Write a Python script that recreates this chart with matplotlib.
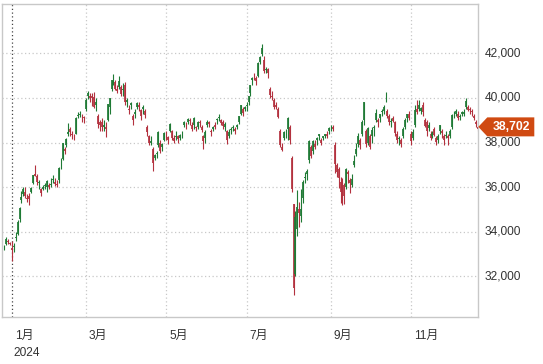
import numpy as np
import pandas as pd
import matplotlib
matplotlib.use('Agg')
import matplotlib.pyplot as plt
from matplotlib.patches import Polygon
from matplotlib.transforms import IdentityTransform

plt.rcParams['font.family'] = ['Liberation Sans', 'Noto Sans CJK JP']

# trading calendar (TSE), 2023-12-26 .. 2024-12-20
start_date = '2023-12-26'
end_date = '2024-12-20'
holidays = ['2024-01-01', '2024-01-02', '2024-01-03', '2024-01-08', '2024-02-12',
            '2024-02-23', '2024-03-20', '2024-04-29', '2024-05-03', '2024-05-06',
            '2024-07-15', '2024-08-12', '2024-09-16', '2024-09-23', '2024-10-14',
            '2024-11-04']
prev_close_start = 33254

# daily OHLC (Nikkei 225)
opens = [
    33300, 33450, 33600, 33480,  # Dec 2023
    33194, 33300, 33700, 33900, 34550, 35400, 35700, 35800, 35500, 35600, 35800, 36200, 36600, 36500, 36200, 35900, 35900, 36100, 36000,
    36100, 36100, 36300, 36250, 36100, 36300, 36900, 37250, 37600, 37900, 38400, 38600, 38350, 38250, 38400, 39200, 39300, 39200, 39100,
    39500, 40200, 40000, 40000, 40050, 39800, 39200, 38900, 38900, 38700, 38600, 39000, 39600, 40400, 40900, 40700, 40300, 40500, 40500, 40400,
    40600, 39900, 39500, 39700, 39200, 39300, 39600, 39700, 39200, 39600, 39400, 38700, 38300, 38000, 37700, 37300, 37500, 37900, 38000, 37800, 38100,
    38300, 38100, 38500, 38500, 38200, 38300, 38300, 38200, 38400, 38800, 38800, 38900, 39000, 38800, 38800, 38700, 38700, 38900, 38700, 38300, 38200,
    38800, 38900, 38500, 38600, 38800, 39000, 39100, 39000, 38900, 38700, 38500, 38300, 38600, 38700, 38500, 38700, 38900, 39300, 39500, 39500,
    39700, 39800, 40200, 40800, 40900, 40900, 41000, 41600, 41950, 41700, 41300, 41300, 40400, 40100, 39900, 39700, 39500, 38500, 37800, 38200, 38500, 38600,
    38700, 37300, 35250, 32100, 34100, 35000, 34700, 35500, 36400, 36600, 37200, 37800, 37600, 37800, 38100, 38300, 38000, 38200, 38300, 38300, 38500,
    38700, 38600, 37900, 37000, 36800, 35800, 36300, 36100, 36000, 36700, 36300, 36100, 37000, 37500, 38300, 38100, 38400, 39000, 38500,
    38000, 38300, 38300, 38700, 39000, 39000, 39100, 39400, 39400, 39900, 39400, 39200, 38900, 39100, 38900, 38400, 38200, 38100, 38300, 38700, 39100, 39300,
    38400, 38200, 38800, 39500, 39700, 39400, 39700, 39000, 38900, 38800, 38400, 38300, 38600, 38200, 38100, 38500, 38500, 38300, 38300, 38300,
    38300, 38700, 39300, 39300, 39300, 39200, 39300, 39300, 39600, 39600, 39500, 39400, 39200, 38900, 38600,
]
highs = [
    33400, 33760, 33650, 33550,
    33568, 33500, 33990, 34510, 35100, 35840, 35990, 36000, 35700, 35730, 36000, 36550, 36980, 36600, 36300, 35950, 36100, 36200, 36300,
    36200, 36400, 36550, 36400, 36300, 36900, 37290, 38000, 37800, 38200, 38865, 38700, 38500, 38400, 39156, 39390, 39430, 39300, 39200,
    39990, 40315, 40200, 40200, 40250, 40000, 39300, 39000, 39100, 39000, 38900, 39750, 40010, 40820, 41088, 40800, 40600, 40980, 40600, 40650,
    40700, 40000, 39700, 39800, 39300, 39500, 39800, 39800, 39500, 39700, 39500, 38800, 38350, 38300, 37800, 37500, 37600, 38500, 38100, 38000, 38450,
    38500, 38300, 38860, 38550, 38350, 38500, 38350, 38400, 38500, 38950, 38900, 39100, 39100, 38900, 39150, 38750, 38950, 39000, 38800, 38350, 38550,
    39000, 38950, 38600, 38750, 38900, 39100, 39300, 39050, 39000, 38900, 38550, 38600, 38700, 38800, 38700, 38850, 39200, 39700, 39600, 39650,
    39800, 40100, 40600, 40950, 41100, 41000, 41600, 41900, 42426, 41900, 41400, 41350, 40500, 40300, 40000, 39800, 39600, 38600, 38000, 38500, 38600, 39150,
    38800, 37400, 35250, 34911, 35880, 35350, 35900, 36300, 36700, 36800, 38100, 37900, 38100, 38100, 38250, 38400, 38200, 38300, 38400, 38500, 38700,
    38800, 38800, 38040, 37080, 36910, 36470, 36400, 36200, 36860, 36770, 36410, 36600, 37440, 37980, 38430, 38200, 39010, 39830, 38600,
    38700, 38400, 38700, 38800, 39500, 39100, 39300, 39500, 39700, 40257, 39500, 39300, 39100, 39200, 38950, 38500, 38300, 38200, 38700, 39100, 39300, 39400,
    38500, 38600, 39700, 39900, 39900, 39600, 39800, 39100, 39000, 38900, 38500, 38500, 38700, 38300, 38400, 38800, 38600, 38400, 38500, 38400,
    38600, 39300, 39400, 39500, 39400, 39300, 39400, 39500, 40000, 39700, 39600, 39500, 39300, 39000, 38900,
]
lows = [
    33200, 33400, 33450, 33390,
    32693, 33100, 33600, 33850, 34450, 35300, 35600, 35500, 35320, 35200, 35750, 36150, 36500, 36100, 35900, 35600, 35850, 35900, 35800,
    35900, 36000, 36200, 36050, 36000, 36200, 36800, 37200, 37500, 37800, 38300, 38300, 38150, 38100, 38400, 39100, 39150, 38900, 38880,
    39400, 39950, 39800, 39650, 39550, 39400, 38650, 38500, 38500, 38500, 38270, 38950, 39300, 40300, 40600, 40350, 40200, 40400, 40100, 40100,
    39700, 39600, 39300, 39500, 38800, 39100, 39500, 39400, 39000, 39300, 39100, 38300, 37900, 37900, 36733, 37200, 37300, 37800, 37550, 37600, 38050,
    38100, 37950, 38450, 38100, 38000, 38100, 38000, 38100, 38200, 38700, 38600, 38850, 38800, 38500, 38600, 38500, 38600, 38700, 38450, 37700, 38000,
    38700, 38700, 38300, 38500, 38600, 38850, 38950, 38800, 38600, 38500, 37950, 38200, 38400, 38500, 38400, 38600, 38850, 39250, 39200, 39400,
    39400, 39700, 40100, 40600, 40800, 40600, 40950, 41500, 41900, 41100, 41100, 40900, 40000, 39900, 39500, 39500, 39100, 37800, 37600, 38100, 38200, 38100,
    37950, 35800, 31156, 32000, 33800, 34200, 34450, 35300, 36200, 36300, 37100, 37300, 37500, 37700, 37900, 38100, 37900, 38100, 38200, 38200, 38400,
    38500, 38500, 36620, 36450, 35960, 35290, 35200, 35250, 35900, 36180, 35740, 36000, 36900, 37400, 37800, 37700, 38300, 38800, 37800,
    37900, 37700, 38000, 38300, 38900, 38700, 38900, 39200, 39300, 39800, 39100, 38800, 38700, 38900, 38300, 38000, 37900, 37800, 38200, 38600, 38900, 39000,
    37900, 38100, 38700, 39300, 39400, 39300, 39200, 38700, 38300, 38500, 38100, 38200, 38300, 37900, 38000, 38400, 38200, 37900, 38200, 37900,
    38200, 38600, 39100, 39200, 39000, 39000, 39200, 39200, 39500, 39400, 39300, 39200, 39000, 38700, 38500,
]
closes = [
    33305, 33681, 33539, 33464,
    33288, 33377, 33763, 34441, 35049, 35577, 35901, 35619, 35477, 35466, 35963, 36546, 36517, 36226, 36236, 35751, 36026, 36066, 36287,
    36011, 36158, 36354, 36160, 36119, 36863, 36897, 37963, 37703, 38157, 38487, 38470, 38363, 38262, 39098, 39233, 39239, 39208, 39166,
    39910, 40109, 40097, 40090, 39598, 39688, 38820, 38797, 38695, 38807, 38707, 39740, 40003, 40815, 40888, 40414, 40398, 40762, 40168, 40369,
    39803, 39838, 39451, 39773, 38992, 39347, 39773, 39581, 39442, 39523, 39233, 38471, 37961, 38079, 37068, 37438, 37552, 38460, 37628, 37934, 38405,
    38274, 38236, 38835, 38202, 38073, 38229, 38179, 38356, 38385, 38920, 38787, 39069, 38946, 38617, 39103, 38646, 38900, 38855, 38556, 38054, 38487,
    38923, 38837, 38490, 38703, 38683, 39038, 39134, 38876, 38720, 38814, 38102, 38482, 38570, 38633, 38596, 38804, 39173, 39667, 39341, 39583,
    39631, 40074, 40580, 40913, 40912, 40780, 41580, 41831, 42224, 41190, 41275, 41097, 40126, 40063, 39599, 39594, 39154, 37869, 37667, 38468, 38525, 39101,
    38126, 35909, 31458, 34675, 35089, 34831, 35025, 36232, 36442, 36726, 38062, 37388, 38062, 37951, 38211, 38364, 38110, 38288, 38371, 38362, 38647,
    38700, 38686, 37047, 36657, 36391, 36215, 36159, 35619, 36833, 36581, 36203, 36380, 37155, 37723, 37940, 37870, 38925, 39829, 37919,
    38651, 37808, 38552, 38635, 39332, 38937, 39277, 39380, 39605, 39910, 39180, 38911, 38981, 38954, 38411, 38104, 38143, 37913, 38605, 39027, 39277, 39081,
    38053, 38474, 39480, 39381, 39500, 39533, 39376, 38721, 38536, 38642, 38220, 38414, 38352, 38026, 38283, 38780, 38442, 38134, 38349, 38208,
    38513, 39248, 39276, 39395, 39091, 39160, 39367, 39372, 39849, 39470, 39457, 39364, 39081, 38813, 38702,
]

yticks = [32000, 34000, 36000, 38000, 40000, 42000]
month_labels = {1: '1月', 3: '3月', 5: '5月', 7: '7月', 9: '9月', 11: '11月'}
year_label = '2024'

dates = pd.bdate_range(start_date, end_date)
dates = dates[~dates.isin(pd.to_datetime(holidays))]
n = min(len(dates), len(closes))
dates = dates[:n]
o = np.array(opens[:n]); h = np.array(highs[:n]); l = np.array(lows[:n]); c = np.array(closes[:n])
x = np.arange(n)

prev = np.concatenate([[prev_close_start], c[:-1]])
green, red = '#1f7a35', '#b3313e'
colors = np.where(c >= prev, green, red)

fig = plt.figure(figsize=(5.43, 3.64), dpi=100)
ax = fig.add_axes([1.7 / 543, 1 - 317.3 / 364, 476.6 / 543, 313.0 / 364])

# month gridlines at first trading day of odd months
tick_pos, tick_lab = [], []
for i in range(1, n):
    if dates[i].month != dates[i - 1].month and dates[i].month in month_labels:
        tick_pos.append(i)
        tick_lab.append(month_labels[dates[i].month])

for v in yticks:
    ax.axhline(v, color='#c8c8c8', lw=0.9, ls=(0, (1, 2)), zorder=0)
for p, lab in zip(tick_pos, tick_lab):
    col = '#444444' if lab == '1月' else '#c8c8c8'
    ax.axvline(p, color=col, lw=0.9, ls=(0, (1, 2)), zorder=0)

ax.vlines(x, l, h, colors=colors, lw=0.8, zorder=2)
ax.vlines(x, np.minimum(o, c), np.maximum(o, c), colors=colors, lw=1.25, zorder=3)

ax.set_xlim(-1.1, n - 0.6)
ax.set_ylim(30160, 44200)
ax.set_xticks([])
ax.set_yticks([])
for s in ax.spines.values():
    s.set_color('#c8c8c8')
    s.set_linewidth(1.0)

for v in yticks:
    ax.annotate(f'{v:,}', xy=(1, v), xycoords=('axes fraction', 'data'),
                xytext=(6, 0), textcoords='offset pixels',
                ha='left', va='center', fontsize=8.6, color='#333333')

for p, lab in zip(tick_pos, tick_lab):
    ax.annotate(lab, xy=(p, 0), xycoords=('data', 'axes fraction'),
                xytext=(3, -19), textcoords='offset pixels',
                ha='left', va='center', fontsize=8.6, color='#333333')
    if lab == '1月':
        ax.annotate(year_label, xy=(p, 0), xycoords=('data', 'axes fraction'),
                    xytext=(2, -36), textcoords='offset pixels',
                    ha='left', va='center', fontsize=8.6, color='#333333')

# last price tag
fig.canvas.draw()
ypix = ax.transData.transform((0, c[-1]))[1]
x0 = ax.transAxes.transform((1, 0))[0]
tag = Polygon([(x0, ypix), (x0 + 9, ypix + 9.5), (x0 + 56, ypix + 9.5),
               (x0 + 56, ypix - 9.5), (x0 + 9, ypix - 9.5)], closed=True,
              facecolor='#d04a12', edgecolor='none', transform=IdentityTransform())
fig.add_artist(tag)
fig.text((x0 + 33) / 543, ypix / 364, f'{c[-1]:,}', ha='center', va='center',
         fontsize=8.8, fontweight='bold', color='white')

fig.savefig('out.png', dpi=100)
